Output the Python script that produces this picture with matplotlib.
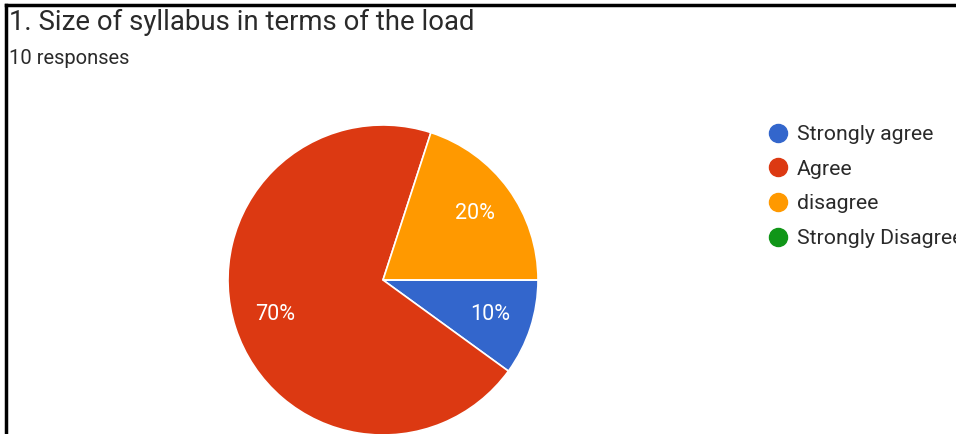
import matplotlib
matplotlib.use("Agg")
import matplotlib.pyplot as plt
from matplotlib.lines import Line2D

plt.rcParams['font.family'] = ['Roboto', 'DejaVu Sans']

title = "1. Size of syllabus in terms of the load"
subtitle = "10 responses"
categories = ["Strongly agree", "Agree", "disagree", "Strongly Disagree"]
values = [1, 7, 2, 0]
colors = ["#3366cc", "#dc3912", "#ff9900", "#109618"]

W, H = 956, 434
fig = plt.figure(figsize=(W / 100, H / 100), dpi=100)
ax = fig.add_axes([0, 0, 1, 1])

wedges, texts, autotexts = ax.pie(
    values, colors=colors, startangle=0, counterclock=False,
    center=(383, H - 280), radius=155,
    autopct=lambda p: f"{p:.0f}%" if p > 0 else "",
    pctdistance=0.73,
    wedgeprops=dict(edgecolor="white", linewidth=1.2),
    textprops=dict(color="white", fontsize=15.5),
)
ax.set_xlim(0, W)
ax.set_ylim(0, H)
ax.set_aspect('auto')
ax.axis('off')

# border (top & left)
fig.add_artist(Line2D([5.5 / W, 5.5 / W], [0, 1 - 5 / H], color="black", lw=2.5))
fig.add_artist(Line2D([5.5 / W, 1], [1 - 5 / H, 1 - 5 / H], color="black", lw=2.5))

fig.text(9 / W, 1 - 30 / H, title, fontsize=19.8, color="#2a2a2a", va="baseline", ha="left")
fig.text(9 / W, 1 - 64 / H, subtitle, fontsize=14.5, color="#2a2a2a", va="baseline", ha="left")

handles = [Line2D([], [], marker="o", linestyle="none", markersize=13,
                  markerfacecolor=c, markeredgecolor=c) for c in colors]
leg = fig.legend(handles, categories, loc="upper left",
                 bbox_to_anchor=(765 / W, 1 - 125 / H), frameon=False,
                 fontsize=15.3, labelspacing=0.74, handletextpad=0.3,
                 borderaxespad=0, borderpad=0, handlelength=1.2)
for t in leg.get_texts():
    t.set_color("#2a2a2a")

fig.savefig("out.png", dpi=100)
